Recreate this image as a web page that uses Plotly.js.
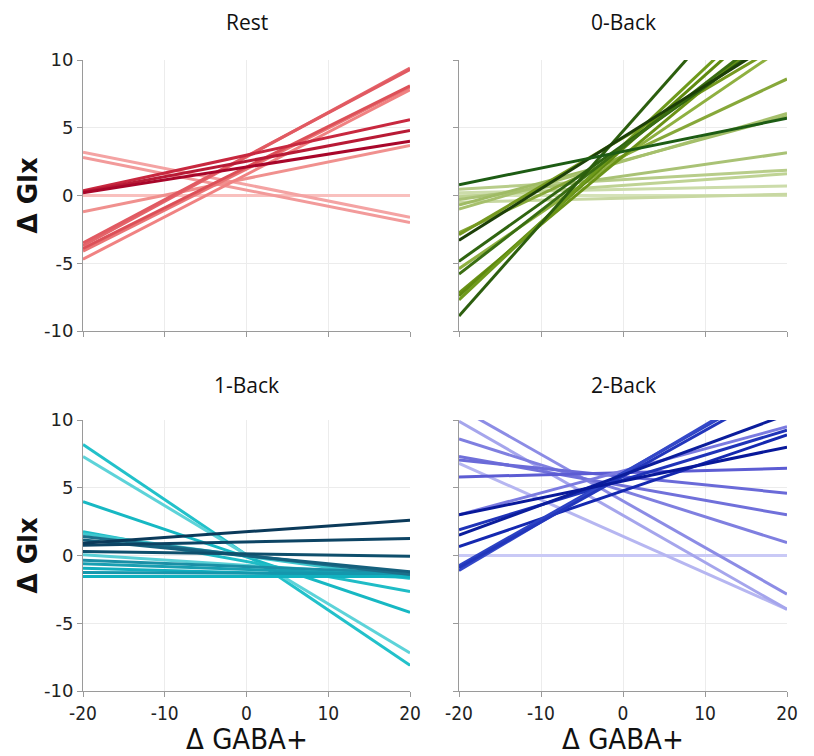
<!DOCTYPE html>
<html>
<head>
<meta charset="utf-8">
<script src="https://cdn.plot.ly/plotly-3.0.1.min.js"></script>
<style>html,body{margin:0;padding:0;background:#fff;}#chart{width:814px;height:756px;}</style>
</head>
<body>
<div id="chart"></div>
<script>
// ---- data ----
var gabaEnds = [-20, 20];

var panelTitles = ["Rest", "0-Back", "1-Back", "2-Back"];
var xTickVals = [-20, -10, 0, 10, 20];
var xTickText = ["-20", "-10", "0", "10", "20"];
var yTickVals = [-10, -5, 0, 5, 10];
var yTickText = ["-10", "-5", "0", "5", "10"];

// Rest: ΔGlx at ΔGABA+ = -20 and at +20
var restStart = [0, 3.2, 2.8, -1.2, -4.7, -4.1, -3.9, -3.7, -3.5, 0.35, 0.25, 0.2];
var restEnd   = [0, -1.6, -2.0, 3.7, 7.8, 8.0, 8.1, 9.4, 9.3, 5.6, 4.8, 4.0];
var restColors = ["#f9c0be", "#f4a3a3", "#f29a9a", "#f0908e", "#f08282", "#ea7475",
                  "#dc5058", "#e4646a", "#e15a62", "#c8283f", "#b81a35", "#a8062a"];

// 0-Back
var zeroStart = [0, 0.2, -0.5, -0.1, 0.47, -0.3, -0.7, -1.0, -2.75, -5.4, -2.9, -7.2, -7.4, -7.7, -4.85, -5.8, -8.9, -3.3, 0.8];
var zeroEnd   = [0, 0.7, 0.1, 1.6, 1.87, 3.15, 5.85, 6.05, 8.6, 11.1, 11.4, 13.0, 14.3, 15.1, 12.3, 12.95, 18.4, 11.9, 5.7];
var zeroColors = ["#d5e2b8", "#ccdcaa", "#c8d8a2", "#bfd394", "#b8cd8a", "#a9c275", "#9fbb64", "#a6c06c",
                  "#87a83a", "#8fb040", "#75991f", "#6a9216", "#5f8a10", "#6f9a1c", "#2f6410", "#3a6e12",
                  "#2c5e0e", "#1c3f08", "#1d5c14"];

// 1-Back
var oneStart = [0.05, 8.2, 7.3, 3.97, 1.75, 1.6, -0.35, -0.6, -0.95, -1.25, -1.55, 1.4, 1.15, 0.3, 0.75, 0.9];
var oneEnd   = [-1.5, -8.1, -7.2, -4.2, -2.65, -1.7, -1.3, -1.45, -1.6, -1.35, -1.55, -1.4, -1.2, -0.05, 1.25, 2.6];
var oneColors = ["#5ad0d6", "#22c1ca", "#5dd3d9", "#17b8c3", "#1fbcc6", "#3fc8cf", "#1a8fa6", "#189fb2",
                 "#12aebe", "#1597ad", "#10b2c0", "#1c6f8a", "#15607d", "#0f4f6c", "#0d4464", "#0b3a5a"];

// 2-Back
var twoStart = [0, 6.8, 9.9, 10.9, 8.6, 7.3, 7.05, 5.8, 3.0, 1.9, 0.65, -0.75, -1.1, -0.9, 1.5, 3.0];
var twoEnd   = [0, -3.97, -3.97, -2.85, 0.95, 3.0, 4.6, 6.43, 9.5, 9.25, 8.9, 12.94, 13.2, 12.6, 10.4, 8.0];
var twoColors = ["#c9c9f6", "#b6b6f1", "#a5a5ec", "#8c8ce5", "#7f7fe0", "#7070da", "#6a6ad8", "#5c5cd3",
                 "#7b7be0", "#1f33b8", "#1428b0", "#2c42c4", "#3448c8", "#2236bc", "#0b1d9c", "#08189a"];

// ---- build ----
var panels = [
  {s: restStart, e: restEnd, c: restColors, xa: "x",  ya: "y"},
  {s: zeroStart, e: zeroEnd, c: zeroColors, xa: "x2", ya: "y2"},
  {s: oneStart,  e: oneEnd,  c: oneColors,  xa: "x3", ya: "y3"},
  {s: twoStart,  e: twoEnd,  c: twoColors,  xa: "x4", ya: "y4"}
];

var traces = [];
panels.forEach(function (p) {
  for (var i = 0; i < p.s.length; i++) {
    traces.push({
      type: "scatter", mode: "lines",
      x: gabaEnds, y: [p.s[i], p.e[i]],
      xaxis: p.xa, yaxis: p.ya,
      line: {color: p.c[i], width: 3},
      hoverinfo: "skip", showlegend: false
    });
  }
});

var W = 814, H = 756;
var xDomL = [83 / W, 410 / W], xDomR = [459 / W, 787 / W];
var yDomT = [(H - 331) / H, (H - 60) / H], yDomB = [(H - 691) / H, (H - 420) / H];

var condensed = "DejaVu Sans Condensed, Roboto Condensed, Noto Sans";

function xax(dom, anchor, labels) {
  return {
    domain: dom, anchor: anchor, range: [-20, 20], tickmode: "array",
    tickvals: xTickVals, ticktext: xTickText,
    showticklabels: labels, ticks: "outside", ticklen: 5, tickcolor: "#9a9a9a",
    showline: true, linecolor: "#9a9a9a", linewidth: 1, showgrid: true, gridcolor: "#ececec",
    zeroline: false, fixedrange: true,
    tickfont: {family: condensed, size: 19, color: "#222"}
  };
}
function yax(dom, anchor, labels) {
  return {
    domain: dom, anchor: anchor, range: [-10, 10], tickmode: "array",
    tickvals: yTickVals, ticktext: yTickText,
    showticklabels: labels, ticks: "outside", ticklen: 5, tickcolor: "#9a9a9a",
    showline: true, linecolor: "#9a9a9a", linewidth: 1, showgrid: true, gridcolor: "#ececec",
    zeroline: false, fixedrange: true,
    tickfont: {family: "DejaVu Sans", size: 18, color: "#222"}
  };
}

var titleFont = {family: "Open Sans, Noto Sans", size: 21, color: "#111"};
var yTitleFont = {family: "DejaVu Sans", size: 26, color: "#111"};
var xTitleFont = {family: condensed, size: 29, color: "#111"};

var cxL = (xDomL[0] + xDomL[1]) / 2, cxR = (xDomR[0] + xDomR[1]) / 2;
var annotations = [
  {text: panelTitles[0], x: cxL, y: (H - 22) / H, font: titleFont},
  {text: panelTitles[1], x: cxR, y: (H - 22) / H, font: titleFont},
  {text: panelTitles[2], x: cxL, y: (H - 385) / H, font: titleFont},
  {text: panelTitles[3], x: cxR, y: (H - 385) / H, font: titleFont},
  {text: "<b>Δ Glx</b>", x: 27 / W, y: (yDomT[0] + yDomT[1]) / 2, textangle: -90, font: yTitleFont},
  {text: "<b>Δ Glx</b>", x: 27 / W, y: (yDomB[0] + yDomB[1]) / 2, textangle: -90, font: yTitleFont},
  {text: "Δ GABA+", x: cxL, y: (H - 739) / H, font: xTitleFont},
  {text: "Δ GABA+", x: cxR, y: (H - 739) / H, font: xTitleFont}
].map(function (a) {
  a.xref = "paper"; a.yref = "paper"; a.showarrow = false;
  a.xanchor = "center"; a.yanchor = "middle";
  return a;
});

var layout = {
  width: W, height: H,
  margin: {l: 0, r: 0, t: 0, b: 0},
  paper_bgcolor: "#fff", plot_bgcolor: "#fff",
  showlegend: false,
  xaxis: xax(xDomL, "y", false),  yaxis: yax(yDomT, "x", true),
  xaxis2: xax(xDomR, "y2", false), yaxis2: yax(yDomT, "x2", false),
  xaxis3: xax(xDomL, "y3", true), yaxis3: yax(yDomB, "x3", true),
  xaxis4: xax(xDomR, "y4", true), yaxis4: yax(yDomB, "x4", false),
  annotations: annotations
};

Plotly.newPlot("chart", traces, layout, {displayModeBar: false, staticPlot: true});
</script>
</body>
</html>
